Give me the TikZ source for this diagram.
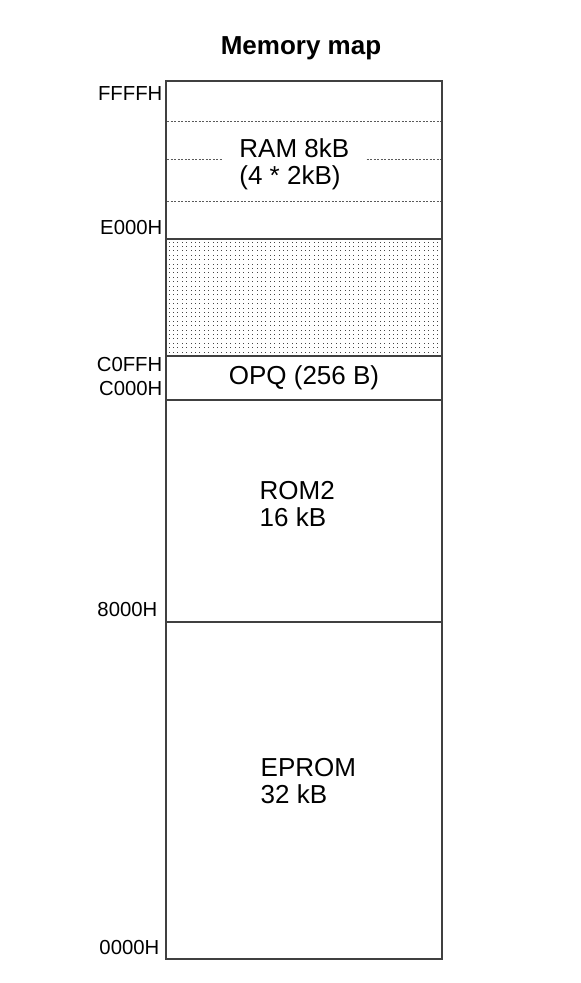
\documentclass[tikz,border=0pt]{standalone}
\usepackage{fontspec}
\setmainfont{Liberation Sans}
\usepackage{xcolor}
\usetikzlibrary{positioning}
\definecolor{mmline}{RGB}{64,64,64}
\definecolor{mmdash}{RGB}{90,90,90}
\definecolor{mmdot}{RGB}{70,70,70}

\begin{document}
\begin{tikzpicture}[x=1pt, y=-1pt,
    region/.style={rectangle, draw=mmline, line width=1.2pt, minimum width=276pt,
        inner sep=0pt, outer sep=0pt},
    addr/.style={anchor=base east, inner sep=0pt, font=\fontsize{20.3}{22}\selectfont},
    memtext/.style={align=left, inner sep=0pt, font=\fontsize{26}{27}\selectfont},
    banklim/.style={draw=mmdash, line width=0.9pt, dash pattern=on 2pt off 1.5pt}
]
\useasboundingbox (0,0) rectangle (581,983);

\node[anchor=base, inner sep=0pt, font=\bfseries\fontsize{26}{28}\selectfont] (title) at (301,54) {Memory map};

% unused area between RAM and OPQ
\foreach \i in {0,...,61}
  \foreach \j in {0,...,25}
    \fill[mmdot] ({168.5+\i*4.4},{241.5+\j*4.4}) rectangle +(1.1,1.1);

% memory regions, top to bottom
\node[region, minimum height=158pt, anchor=north west] (ram) at (166,81) {};
\node[region, minimum height=117pt, below=0pt of ram]  (free)  {};
\node[region, minimum height=44pt,  below=0pt of free, memtext] (opq) {OPQ (256 B)};
\node[region, minimum height=222pt, below=0pt of opq]  (rom)   {};
\node[region, minimum height=337pt, below=0pt of rom]  (eprom) {};

% RAM banks
\foreach \y in {121,159,201}
  \draw[banklim] (167,\y) -- (441,\y);

\node[memtext, fill=white, inner xsep=17pt, inner ysep=4pt, anchor=north west] (ramtxt) at (222.2,134.4) {RAM 8kB\\(4 * 2kB)};
\node[memtext, anchor=north west] (romtxt)   at (259.5,481)   {ROM2\\16 kB};
\node[memtext, anchor=north west] (epromtxt) at (260.5,758.5) {EPROM\\32 kB};

% addresses
\node[addr] (aFFFF) at (162.5,100.7) {FFFFH};
\node[addr] (aE000) at (162.5,234)   {E000H};
\node[addr] (aC0FF) at (162.5,371)   {C0FFH};
\node[addr] (aC000) at (162.5,395)   {C000H};
\node[addr] (a8000) at (157.5,616)   {8000H};
\node[addr] (a0000) at (159.5,954)   {0000H};
\end{tikzpicture}
\end{document}
